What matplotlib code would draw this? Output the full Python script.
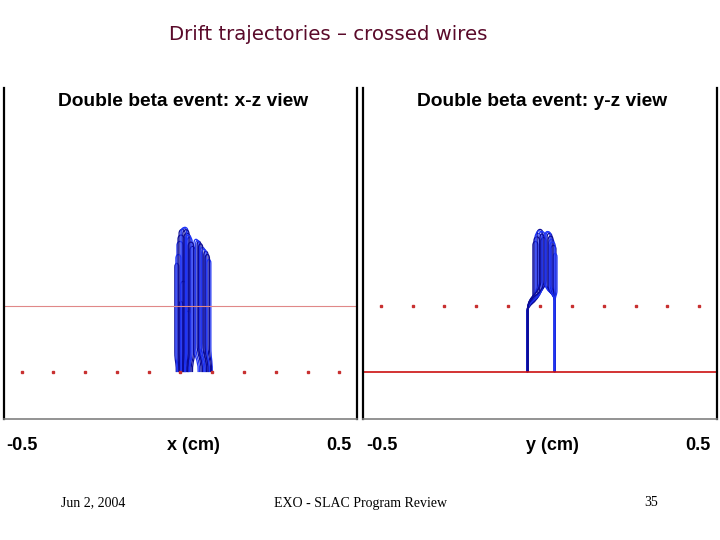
import matplotlib

matplotlib.use("Agg")
import matplotlib.pyplot as plt  # noqa: E402
from matplotlib.path import Path  # noqa: E402
from matplotlib.patches import PathPatch  # noqa: E402

# wire planes (cm); z is the drift coordinate
wire_pos = [-0.45, -0.36, -0.27, -0.18, -0.09, 0.0, 0.09, 0.18, 0.27, 0.36, 0.45]
z_low = 0.133   # plane seen as dots in x-z, as a line in y-z
z_high = 0.320  # plane seen as a line in x-z, as dots in y-z

# x-z view, one entry per drawn loop (two trajectories joined at the top)
xz_left = [-0.016, -0.010, -0.004, 0.004, 0.010, 0.018, 0.027, 0.038,
           0.047, 0.055, 0.066, 0.075, -0.004, 0.013, 0.000,
           -0.013, -0.007, 0.001, 0.007, 0.014, 0.022, 0.043, 0.051, 0.060, 0.070]
xz_right = [-0.005, 0.007, 0.013, 0.021, 0.027, 0.033, 0.041, 0.050,
            0.058, 0.069, 0.078, 0.086, 0.007, 0.027, 0.016,
            0.001, 0.010, 0.017, 0.024, 0.030, 0.037, 0.054, 0.063, 0.073, 0.082]
xz_top = [0.445, 0.507, 0.541, 0.547, 0.530, 0.518, 0.493, 0.513,
          0.507, 0.490, 0.479, 0.456, 0.337, 0.309, 0.394,
          0.470, 0.525, 0.545, 0.540, 0.525, 0.505, 0.510, 0.500, 0.485, 0.470]
xz_end_left = [-0.012, -0.008, -0.003, 0.004, 0.009, 0.015, 0.022, 0.050,
               0.058, 0.066, 0.074, 0.082, -0.003, 0.012, 0.000,
               -0.010, -0.005, 0.001, 0.006, 0.012, 0.018, 0.054, 0.062, 0.070, 0.078]
xz_end_right = [-0.002, 0.006, 0.011, 0.018, 0.022, 0.027, 0.034, 0.062,
                0.070, 0.078, 0.085, 0.090, 0.006, 0.024, 0.014,
                0.002, 0.008, 0.014, 0.020, 0.025, 0.030, 0.066, 0.074, 0.081, 0.088]
xz_bend = [0.190, 0.190, 0.185, 0.185, 0.190, 0.195, 0.200, 0.210,
           0.215, 0.215, 0.210, 0.205, 0.185, 0.190, 0.185,
           0.190, 0.185, 0.185, 0.190, 0.190, 0.195, 0.210, 0.215, 0.210, 0.205]

# y-z view loops
yz_left = [-0.020, -0.014, -0.008, -0.003, 0.003, 0.014, 0.020, 0.025, 0.031, 0.037,
           -0.017, -0.011, 0.000, 0.017, 0.023, 0.028]
yz_right = [-0.006, 0.003, 0.008, 0.014, 0.017, 0.028, 0.034, 0.040, 0.045, 0.048,
            -0.001, 0.006, 0.011, 0.031, 0.037, 0.043]
yz_top = [0.507, 0.530, 0.541, 0.535, 0.518, 0.535, 0.530, 0.513, 0.496, 0.473,
          0.520, 0.537, 0.528, 0.534, 0.522, 0.505]
yz_end_left = [-0.037, -0.036, -0.036, -0.035, -0.035, 0.040, 0.041, 0.041, 0.042, 0.042,
               -0.037, -0.036, -0.035, 0.040, 0.041, 0.041]
yz_end_right = [-0.036, -0.036, -0.035, -0.035, -0.034, 0.041, 0.041, 0.042, 0.042, 0.043,
                -0.036, -0.035, -0.034, 0.041, 0.042, 0.042]
yz_bend_start = [0.355, 0.368, 0.380, 0.390, 0.395, 0.385, 0.380, 0.375, 0.370, 0.365,
                 0.362, 0.375, 0.392, 0.383, 0.378, 0.372]
yz_bend_end = [0.300, 0.302, 0.305, 0.308, 0.312, 0.335, 0.335, 0.335, 0.335, 0.335,
               0.301, 0.304, 0.310, 0.335, 0.335, 0.335]

NAVY = "#0c0c96"
BLUE = "#1f34f5"


def loop_patch(xl, xr, top, el, er, zb1, zb2, z_end, color):
    h = 0.015
    zm = (zb1 + zb2) / 2
    verts = [(el, z_end), (el, zb2),
             (el, zm), (xl, zm), (xl, zb1),
             (xl, top - h),
             (xl, top), (xr, top), (xr, top - h),
             (xr, zb1),
             (xr, zm), (er, zm), (er, zb2),
             (er, z_end)]
    codes = [Path.MOVETO, Path.LINETO,
             Path.CURVE4, Path.CURVE4, Path.CURVE4,
             Path.LINETO,
             Path.CURVE4, Path.CURVE4, Path.CURVE4,
             Path.LINETO,
             Path.CURVE4, Path.CURVE4, Path.CURVE4,
             Path.LINETO]
    return PathPatch(Path(verts, codes), fill=False, edgecolor=color, lw=0.9)


def style(ax):
    ax.set_xlim(-0.5, 0.5)
    ax.set_ylim(0, 0.938)
    ax.set_xticks([])
    ax.set_yticks([])
    ax.spines["top"].set_visible(False)
    ax.spines["left"].set_linewidth(1.6)
    ax.spines["right"].set_linewidth(1.6)
    ax.spines["bottom"].set_color("#808080")
    ax.spines["bottom"].set_linewidth(1.2)


fig = plt.figure(figsize=(7.2, 5.4), dpi=100)
ax1 = fig.add_axes([4 / 720, 121 / 540, 353 / 720, 331 / 540])
ax2 = fig.add_axes([363 / 720, 121 / 540, 354 / 720, 331 / 540])

# x-z view
ax1.axhline(z_high, color="#e08888", lw=0.8)
ax1.plot(wire_pos, [z_low] * len(wire_pos), ls="none",
         marker="s", ms=1.6, color="#c83030")
for i in range(len(xz_left)):
    ax1.add_patch(loop_patch(xz_left[i], xz_right[i], xz_top[i],
                             xz_end_left[i], xz_end_right[i],
                             xz_bend[i], z_low + 0.003, z_low,
                             NAVY if i % 2 == 0 else BLUE))
style(ax1)

# y-z view
ax2.axhline(z_low, color="#cc1010", lw=1.2)
ax2.plot(wire_pos, [z_high] * len(wire_pos), ls="none",
         marker="s", ms=1.6, color="#c83030")
for i in range(len(yz_left)):
    ax2.add_patch(loop_patch(yz_left[i], yz_right[i], yz_top[i],
                             yz_end_left[i], yz_end_right[i],
                             yz_bend_start[i], yz_bend_end[i], z_low,
                             NAVY if i % 2 == 0 else BLUE))
style(ax2)


def px(x, y):
    return x / 720, 1 - y / 540


fig.text(*px(328, 34), "Drift trajectories – crossed wires", ha="center",
         va="center", fontsize=14.2, color="#5a0a2a", family="DejaVu Sans")

bold = dict(family="Liberation Sans", fontweight="bold", ha="center", va="center")
fig.text(*px(183, 102), "Double beta event: x-z view", fontsize=13.8, **bold)
fig.text(*px(542, 102), "Double beta event: y-z view", fontsize=13.8, **bold)
fig.text(*px(22, 446), "-0.5", fontsize=13, **bold)
fig.text(*px(193, 446), "x (cm)", fontsize=13, **bold)
fig.text(*px(339, 446), "0.5", fontsize=13, **bold)
fig.text(*px(382, 446), "-0.5", fontsize=13, **bold)
fig.text(*px(552, 446), "y (cm)", fontsize=13, **bold)
fig.text(*px(698, 446), "0.5", fontsize=13, **bold)

foot = dict(family="Liberation Serif", fontsize=10, ha="center", va="center")
fig.text(*px(93, 503), "Jun 2, 2004", **foot)
fig.text(*px(360, 503), "EXO - SLAC Program Review", **foot)
fig.text(*px(651, 503), "35", **foot)

fig.savefig("out.png", dpi=100)
plt.close(fig)
